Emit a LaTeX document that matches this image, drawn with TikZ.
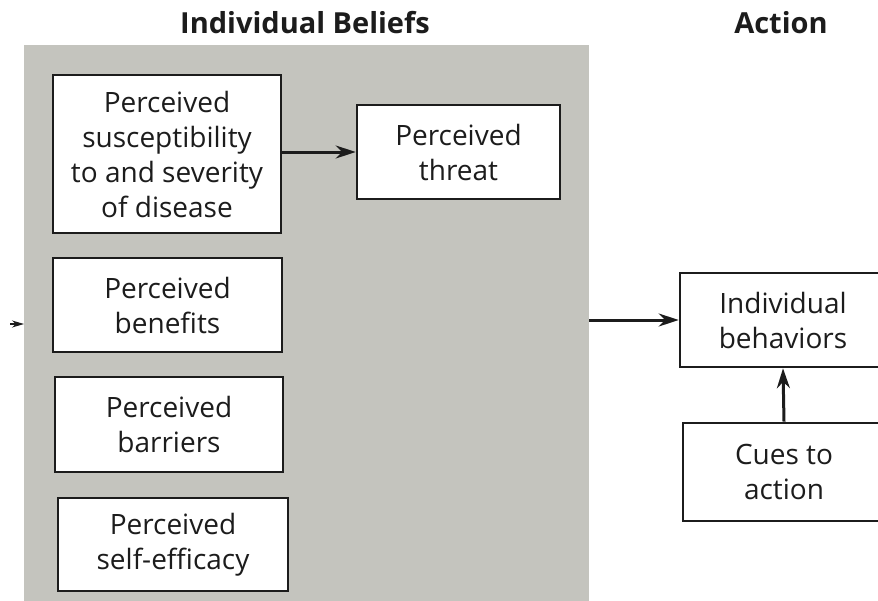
\documentclass[tikz,border=0pt]{standalone}
\usepackage{fontspec}
\setmainfont{Open Sans}
\usetikzlibrary{arrows.meta}
\definecolor{panelgray}{RGB}{196,196,190}
\definecolor{ink}{RGB}{28,28,28}
\tikzset{
  box/.style={draw=ink, line width=2.6pt, fill=white, inner sep=0pt, align=center,
    font=\fontsize{28}{35}\selectfont, text=ink},
  title/.style={font=\fontsize{29}{32}\selectfont\bfseries, text=ink, anchor=base},
  conn/.style={draw=ink, line width=3pt, -{Stealth[length=20pt,width=13pt]}},
}
\begin{document}
\begin{tikzpicture}[x=1pt,y=-1pt]
\useasboundingbox (0,0) rectangle (878,600);
\clip (0,0) rectangle (878,600);
\fill[white] (0,0) rectangle (878,600);
\node[fill=panelgray, inner sep=0pt, minimum width=565pt, minimum height=570pt, anchor=north west] (panel) at (24,45) {};
\node[title] (t1) at (305,33) {Individual Beliefs};
\node[title] (t2) at (781,33) {Action};
\node[box, minimum width=228pt, minimum height=158pt] (sus) at (167,154) {Perceived\\susceptibility\\to and severity\\of disease};
\node[box, minimum width=203pt, minimum height=94pt] (thr) at (458.5,152) {Perceived\\threat};
\node[box, minimum width=229pt, minimum height=94pt] (ben) at (167.5,305) {Perceived\\benefits};
\node[box, minimum width=228pt, minimum height=95pt] (bar) at (169,424.5) {Perceived\\barriers};
\node[box, minimum width=230pt, minimum height=93pt] (eff) at (173,544.5) {Perceived\\self-efficacy};
\node[box, minimum width=206pt, minimum height=94pt] (beh) at (783,320) {Individual\\behaviors};
\node[box, minimum width=202pt, minimum height=98pt] (cue) at (784,472) {Cues to\\action};
\coordinate (lin) at (10,324);
\coordinate (lend) at (24,324);
\draw[conn, line width=1.2pt, -{Stealth[length=12pt,width=7pt]}] (lin) -- (lend);
\draw[conn] (sus.east |- thr.west) -- (thr.west);
\draw[conn] (panel.east |- beh.west) -- (beh.west);
\draw[conn] (cue.north) -- (beh.south);
\end{tikzpicture}
\end{document}
